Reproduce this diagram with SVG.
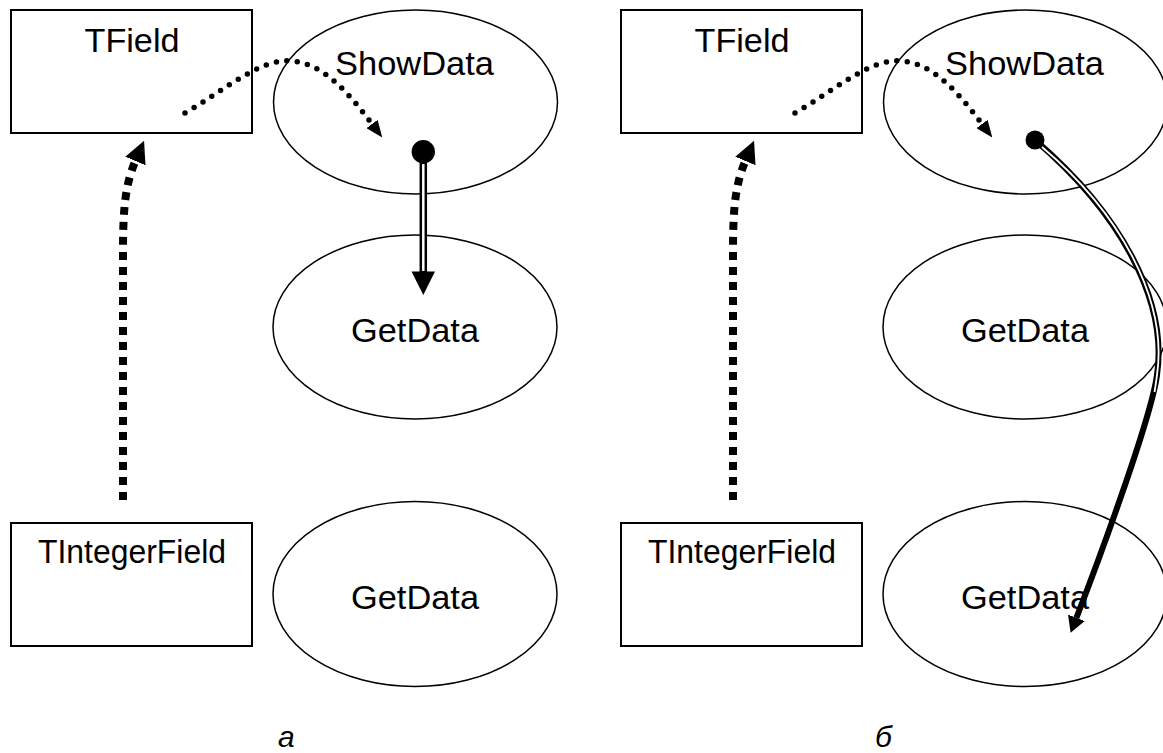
<svg xmlns="http://www.w3.org/2000/svg" width="1163" height="753" viewBox="0 0 1163 753">
<style>
.box{fill:none;stroke:#000;stroke-width:2}
.ell{fill:none;stroke:#000;stroke-width:1.5}
.lbl{font-family:"Liberation Sans",Arial,sans-serif;font-size:33px;fill:#000;text-anchor:middle}
.cap{font-family:"Liberation Sans",Arial,sans-serif;font-size:30px;font-style:italic;fill:#000}
.dots{fill:none;stroke:#000;stroke-width:5.5;stroke-linecap:round;stroke-dasharray:0 10.5}
.dash{fill:none;stroke:#000;stroke-width:8;stroke-dasharray:8 7}
.dbl-b{fill:none;stroke:#000}
.dbl-w{fill:none;stroke:#fff}
</style>
<defs>
<marker id="arrSmall" markerUnits="userSpaceOnUse" viewBox="0 0 17 14" refX="0" refY="7" markerWidth="17" markerHeight="14" orient="auto">
<path d="M0,0 L17,7 L0,14 z" fill="#000"/>
</marker>
<marker id="arrBig" markerUnits="userSpaceOnUse" viewBox="0 0 22 22" refX="0" refY="11" markerWidth="22" markerHeight="22" orient="auto">
<path d="M0,0 L22,11 L0,22 z" fill="#000"/>
</marker>
<marker id="arrCurve" markerUnits="userSpaceOnUse" viewBox="0 0 16 18" refX="0" refY="9" markerWidth="16" markerHeight="18" orient="auto">
<path d="M0,0 L16,9 L0,18 z" fill="#000"/>
</marker>
</defs>

<g id="panel-a">
<g id="a-tfield"><rect class="box" x="11" y="10" width="241" height="123"/><text class="lbl" x="132" y="52" textLength="95" lengthAdjust="spacingAndGlyphs">TField</text></g>
<g id="a-showdata"><ellipse class="ell" cx="415.5" cy="102" rx="142" ry="92"/><text class="lbl" x="414.5" y="75" textLength="159" lengthAdjust="spacingAndGlyphs">ShowData</text></g>
<g id="a-getdata1"><ellipse class="ell" cx="415" cy="327" rx="142" ry="92"/><text class="lbl" x="415" y="342" textLength="128" lengthAdjust="spacingAndGlyphs">GetData</text></g>
<g id="a-tintegerfield"><rect class="box" x="11" y="523" width="241" height="123"/><text class="lbl" x="132" y="563" textLength="188" lengthAdjust="spacingAndGlyphs">TIntegerField</text></g>
<g id="a-getdata2"><ellipse class="ell" cx="415" cy="594" rx="142" ry="92.5"/><text class="lbl" x="415" y="609" textLength="128" lengthAdjust="spacingAndGlyphs">GetData</text></g>
<text class="cap" x="278" y="747">а</text>
</g>

<g id="panel-b">
<g id="b-tfield"><rect class="box" x="621" y="10" width="241" height="123"/><text class="lbl" x="742" y="52" textLength="95" lengthAdjust="spacingAndGlyphs">TField</text></g>
<g id="b-showdata"><ellipse class="ell" cx="1025.5" cy="102" rx="142" ry="92"/><text class="lbl" x="1024.5" y="75" textLength="159" lengthAdjust="spacingAndGlyphs">ShowData</text></g>
<g id="b-getdata1"><ellipse class="ell" cx="1025" cy="327" rx="142" ry="92"/><text class="lbl" x="1025" y="342" textLength="128" lengthAdjust="spacingAndGlyphs">GetData</text></g>
<g id="b-tintegerfield"><rect class="box" x="621" y="523" width="241" height="123"/><text class="lbl" x="742" y="563" textLength="188" lengthAdjust="spacingAndGlyphs">TIntegerField</text></g>
<g id="b-getdata2"><ellipse class="ell" cx="1025" cy="594" rx="142" ry="92.5"/><text class="lbl" x="1025" y="609" textLength="128" lengthAdjust="spacingAndGlyphs">GetData</text></g>
<text class="cap" x="875" y="747">б</text>
</g>

<g id="connectors">
<path class="dots" d="M185,113 C225,90 260,58 292,61 C325,64 350,95 372,124" marker-end="url(#arrSmall)"/>
<path class="dash" d="M123,500 L123,250 C123,205 126,183 135.4,161" marker-end="url(#arrBig)"/>
<circle cx="423.3" cy="151.7" r="11.7" fill="#000"/>
<line class="dbl-b" x1="423.3" y1="158" x2="423.3" y2="273" stroke-width="7.5"/>
<line class="dbl-w" x1="423.3" y1="164" x2="423.3" y2="271" stroke-width="2.5"/>
<polygon points="411.5,271.5 435,271.5 423.3,295" fill="#000"/>
<path class="dots" d="M795,113 C835,90 870,58 902,61 C935,64 960,95 982,124" marker-end="url(#arrSmall)"/>
<path class="dash" d="M733,500 L733,250 C733,205 736,183 745.4,161" marker-end="url(#arrBig)"/>
<path class="dbl-b" d="M1035,140 C1120,213 1168,300 1157,375 C1151,420 1095,570 1076.4,617.8" stroke-width="6" marker-end="url(#arrCurve)"/>
<path class="dbl-w" d="M1042,147 C1120,213 1168,300 1157,375 C1156.3,380 1155.5,386 1154.5,392" stroke-width="1.8"/>
<circle cx="1035" cy="140" r="9.5" fill="#000"/>
</g>
</svg>
